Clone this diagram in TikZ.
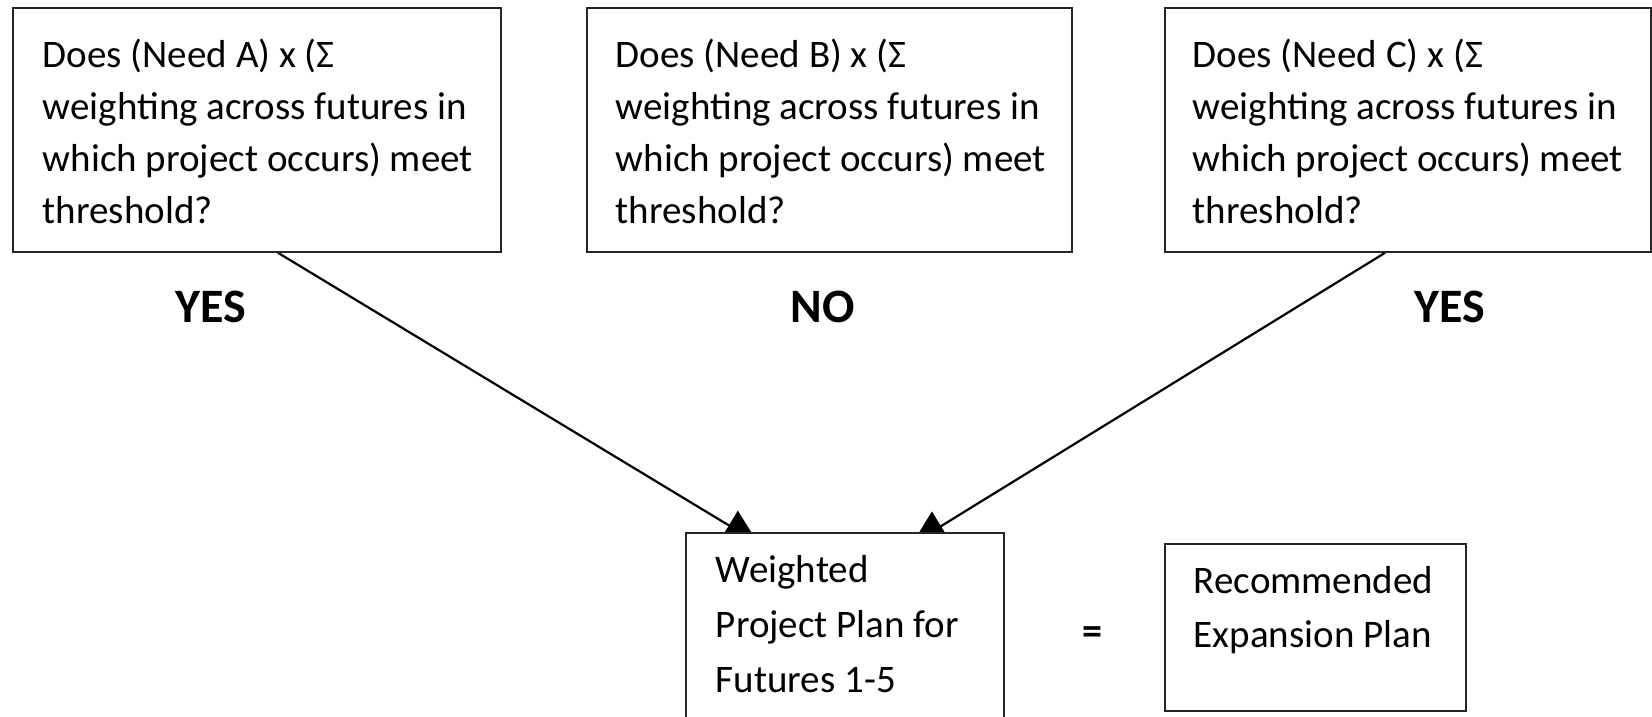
\documentclass[tikz,border=0pt]{standalone}
\usepackage{fontspec}
\setmainfont{Carlito}
\usetikzlibrary{arrows.meta,backgrounds}

% body of a box: width, height, first baseline offset, left padding, baselineskip, lines
\newcommand\boxbody[6]{%
  \parbox[c][#2][t]{#1}{\fontsize{39pt}{#5}\selectfont\raggedright
    \leftskip=#4\relax\rule{0pt}{#3}#6}}

\tikzset{
  panel/.style={draw=black!85, line width=1.8pt, fill=white, inner sep=0pt,
    anchor=north west},
  verdict/.style={font=\fontsize{48pt}{54pt}\selectfont\bfseries, anchor=base,
    inner sep=0pt},
  flow/.style={line width=2.2pt, -{Triangle[length=34pt,width=34pt]}},
}

\begin{document}
\begin{tikzpicture}[x=1pt,y=-1pt]
\useasboundingbox (0,0) rectangle (1652,717);

% decision boxes
\node[panel] (needA) at (12,7) {\boxbody{488pt}{244pt}{60pt}{30pt}{52pt}{%
  Does (Need A) x (Σ\\ weighting across futures in\\ which project occurs) meet\\ threshold?}};
\node[panel] (needB) at (586,7) {\boxbody{485pt}{244pt}{60pt}{29pt}{52pt}{%
  Does (Need B) x (Σ\\ weighting across futures in\\ which project occurs) meet\\ threshold?}};
\node[panel] (needC) at (1164,7) {\boxbody{486pt}{244pt}{60pt}{28pt}{52pt}{%
  Does (Need C) x (Σ\\ weighting across futures in\\ which project occurs) meet\\ threshold?}};

% outcome labels
\node[verdict] (yesA) at (211,322) {YES};
\node[verdict] (noB)  at (823,322) {NO};
\node[verdict] (yesC) at (1450,322) {YES};

% result boxes
\node[panel] (plan) at (685,532) {\boxbody{318pt}{200pt}{50pt}{30pt}{55pt}{%
  Weighted\\ Project Plan for\\ Futures 1-5}};
\node[font=\fontsize{40pt}{46pt}\selectfont\bfseries, anchor=base, inner sep=0pt]
  (equals) at (1092.5,644) {=};
\node[panel] (rec) at (1164,543) {\boxbody{301pt}{167pt}{50pt}{29pt}{54pt}{%
  Recommended\\ Expansion Plan}};

% arrow tips sit just under the top edge of the plan box
\coordinate (tipA) at (758,543);
\coordinate (tipC) at (912,544);

\begin{pgfonlayer}{background}
  \draw[flow] ([xshift=266pt]needA.south west) -- (tipA);
  \draw[flow] ([xshift=221pt]needC.south west) -- (tipC);
\end{pgfonlayer}
\end{tikzpicture}
\end{document}
